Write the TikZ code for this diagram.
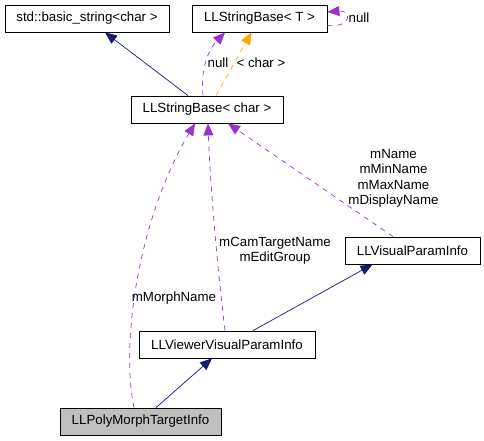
\documentclass[tikz,border=0pt]{standalone}
\usepackage{fontspec}
\setmainfont{Liberation Sans}
\usepackage{tikz}
\usetikzlibrary{arrows.meta}
\definecolor{inhblue}{HTML}{191970}
\definecolor{usepurple}{HTML}{9A32CD}
\definecolor{tplorange}{HTML}{FFA500}

\begin{document}
\begin{tikzpicture}[
        x=1pt, y=-1pt,
        font=\fontsize{13.3}{15.5}\selectfont,
        cls/.style={draw, line width=0.8pt, minimum height=27pt, inner sep=0pt},
        inh/.style={-{Triangle[length=12pt,width=10pt]}, inhblue, line width=0.7pt},
        usg/.style={-{Triangle[length=12pt,width=10pt]}, usepurple, line width=0.7pt, dash pattern=on 5pt off 5pt},
        tpl/.style={-{Triangle[length=12pt,width=10pt]}, tplorange, line width=0.7pt, dash pattern=on 5pt off 5pt},
        lbl/.style={align=center, inner sep=0pt}
    ]
        \useasboundingbox (0,0) rectangle (484,440);
        % classes
        \node[cls, minimum width=164pt] (std) at (87,18.5) {std::basic\_string<char >};
        \node[cls, minimum width=135pt] (tstr) at (259.5,18.5) {LLStringBase< T >};
        \node[cls, minimum width=152pt] (cstr) at (207,109.5) {LLStringBase< char >};
        \node[cls, minimum width=135pt] (visual) at (412.5,250.5) {LLVisualParamInfo};
        \node[cls, minimum width=176pt] (viewer) at (227,344.5) {LLViewerVisualParamInfo};
        \node[cls, minimum width=161pt, fill=black!25] (poly) at (140.5,421.5) {LLPolyMorphTargetInfo};
        % edge labels
        \node[lbl] (nullloop) at (359,18) {null};
        \node[lbl] (nulllbl) at (218,63) {null};
        \node[lbl] (charlbl) at (261,63) {< char >};
        \node[lbl] (namelbl) at (393.5,178.5) {mName\\mMinName\\mMaxName\\mDisplayName};
        \node[lbl] (camlbl) at (275,250.5) {mCamTargetName\\mEditGroup};
        \node[lbl] (morphlbl) at (174,298) {mMorphName};
        % inheritance
        \draw[inh] ([xshift=-19pt]cstr.north) -- ([xshift=18pt]std.south);
        \draw[inh] ([xshift=26pt]viewer.north) -- ([xshift=-40pt]visual.south);
        \draw[inh] ([xshift=15.5pt]poly.north) -- ([xshift=-15pt]viewer.south);
        % template instance
        \draw[tpl] ([xshift=9pt]cstr.north) -- ([xshift=-8pt]tstr.south);
        % usage
        \draw[usg] ([yshift=-7pt]tstr.east) .. controls (352,28) and (352,10) .. ([yshift=6.5pt]tstr.east);
        \draw[usg] ([xshift=-4pt]cstr.north) .. controls (200,62) and (212,46) .. ([xshift=-34.5pt]tstr.south);
        \draw[usg] ([xshift=-6.5pt]poly.north) .. controls (120,340) and (140,215) .. ([xshift=-12pt]cstr.south);
        \draw[usg] ([xshift=-2pt]viewer.north) .. controls (216,255) and (210,180) .. ([xshift=1pt]cstr.south);
        \draw[usg] ([xshift=-19.5pt]visual.north) -- ([xshift=21pt]cstr.south);
    \end{tikzpicture}
\end{document}
